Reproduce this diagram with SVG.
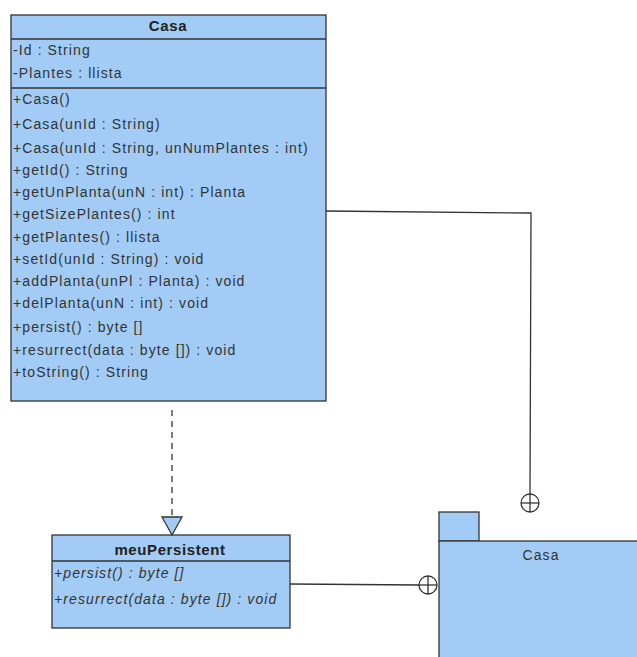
<svg xmlns="http://www.w3.org/2000/svg" width="637" height="657" viewBox="0 0 637 657">
<style>
.box{fill:#a2ccf5;stroke:#333;stroke-width:1.3}
.sep{stroke:#333;stroke-width:1.3}
.t{font-family:"Liberation Sans",Arial,sans-serif;font-size:14px;fill:#333;letter-spacing:1.1px}
.h{font-family:"Liberation Sans",Arial,sans-serif;font-size:15px;font-weight:bold;fill:#222;text-anchor:middle;letter-spacing:0.6px}
.i{font-style:italic}
.ln{fill:none;stroke:#333;stroke-width:1.3}
</style>
<rect width="637" height="657" fill="#fff"/>
<g id="Casa">
<rect class="box" x="11" y="15" width="315" height="386"/>
<line class="sep" x1="11" y1="39" x2="326" y2="39"/>
<line class="sep" x1="11" y1="88" x2="326" y2="88"/>
<text class="h" x="168" y="31">Casa</text>
<text class="t" x="13" y="55">-Id : String</text>
<text class="t" x="13" y="78">-Plantes : llista</text>
<text class="t" x="13" y="104">+Casa()</text>
<text class="t" x="13" y="129">+Casa(unId : String)</text>
<text class="t" x="13" y="153">+Casa(unId : String, unNumPlantes : int)</text>
<text class="t" x="13" y="175">+getId() : String</text>
<text class="t" x="13" y="197">+getUnPlanta(unN : int) : Planta</text>
<text class="t" x="13" y="219">+getSizePlantes() : int</text>
<text class="t" x="13" y="242">+getPlantes() : llista</text>
<text class="t" x="13" y="264">+setId(unId : String) : void</text>
<text class="t" x="13" y="286">+addPlanta(unPl : Planta) : void</text>
<text class="t" x="13" y="308">+delPlanta(unN : int) : void</text>
<text class="t" x="13" y="332">+persist() : byte []</text>
<text class="t" x="13" y="355">+resurrect(data : byte []) : void</text>
<text class="t" x="13" y="377">+toString() : String</text>
</g>
<g id="meuPersistent">
<rect class="box" x="52" y="535" width="238" height="93"/>
<line class="sep" x1="52" y1="561" x2="290" y2="561"/>
<text class="h" x="170" y="555">meuPersistent</text>
<text class="t i" x="54" y="578">+persist() : byte []</text>
<text class="t i" x="54" y="604">+resurrect(data : byte []) : void</text>
</g>
<g id="CasaPackage">
<rect class="box" x="439" y="512" width="40" height="29"/>
<rect class="box" x="439" y="541" width="220" height="130"/>
<text x="541" y="560" font-family="Liberation Sans,Arial,sans-serif" font-size="14" fill="#333" text-anchor="middle" letter-spacing="1.1">Casa</text>
</g>
<g id="connectors">
<line class="ln" x1="172" y1="410" x2="172" y2="517" stroke-dasharray="6,5"/>
<polygon points="162,517 182,517 172,535" fill="#a2ccf5" stroke="#333" stroke-width="1.3"/>
<polyline class="ln" points="326,211 531,213 530,494"/>
<circle cx="530" cy="503" r="9" fill="#fff" stroke="#333" stroke-width="1.3"/>
<line class="ln" x1="521" y1="503" x2="539" y2="503"/>
<line class="ln" x1="530" y1="494" x2="530" y2="512"/>
<line class="ln" x1="290" y1="584" x2="419" y2="585"/>
<circle cx="428" cy="585" r="9" fill="#fff" stroke="#333" stroke-width="1.3"/>
<line class="ln" x1="419" y1="585" x2="437" y2="585"/>
<line class="ln" x1="428" y1="576" x2="428" y2="594"/>
</g>
</svg>
